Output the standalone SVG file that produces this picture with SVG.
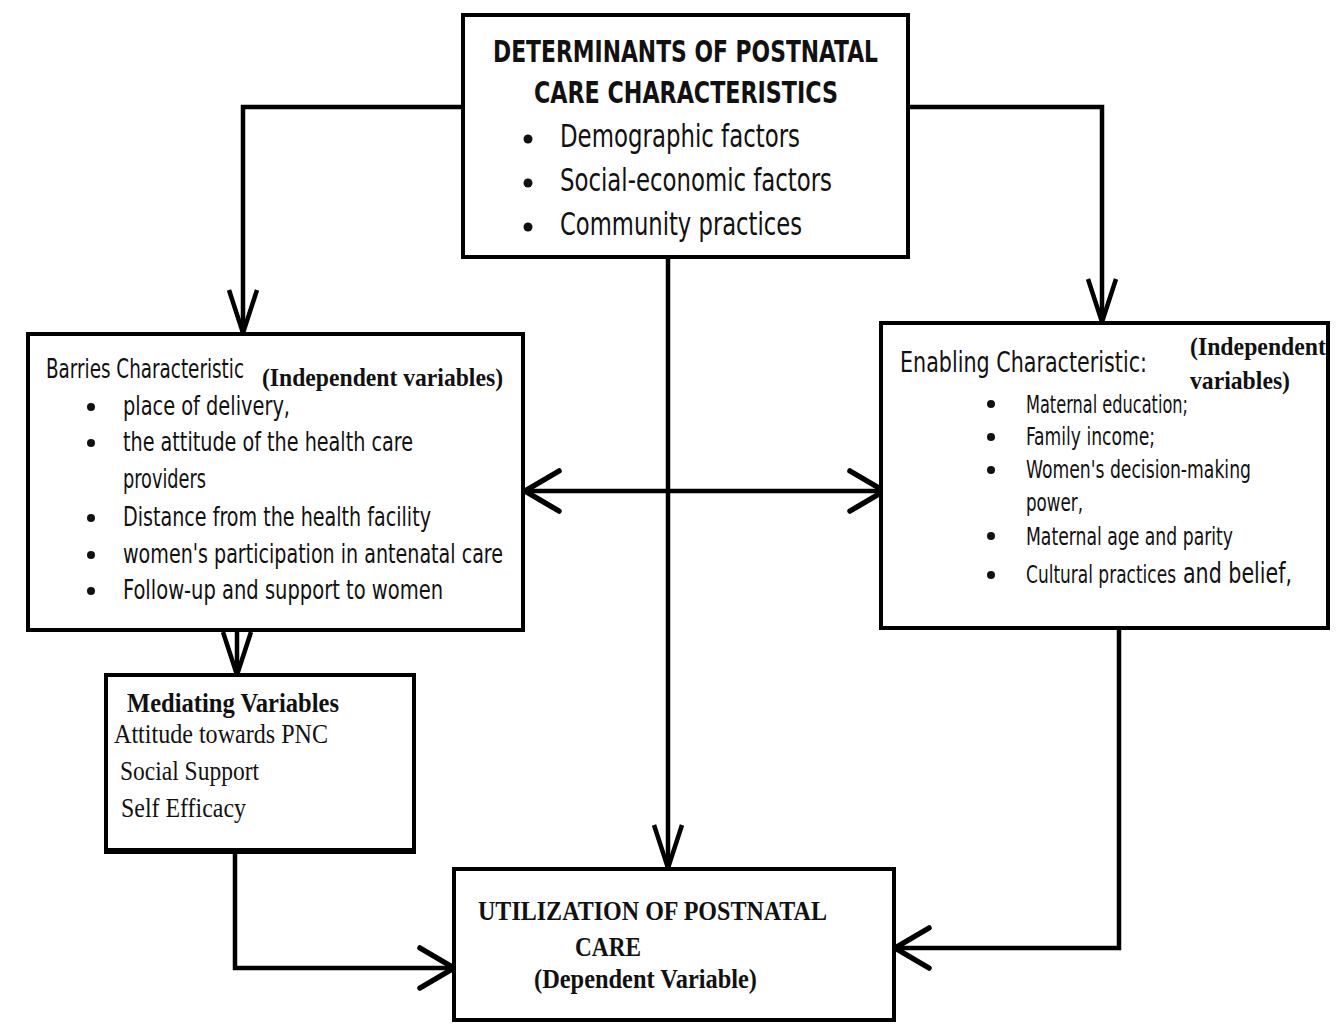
<svg xmlns="http://www.w3.org/2000/svg" width="1339" height="1024" viewBox="0 0 1339 1024">
<style>
.box{fill:#fff;stroke:#000;stroke-width:4}
.con{fill:none;stroke:#000;stroke-width:4.5}
.s{font-family:"DejaVu Sans Condensed","DejaVu Sans","Liberation Sans",sans-serif;fill:#111}
.sb{font-family:"DejaVu Sans Condensed","DejaVu Sans","Liberation Sans",sans-serif;font-weight:bold;fill:#111}
.r{font-family:"Liberation Serif","Times New Roman",serif;fill:#111}
.rb{font-family:"Liberation Serif","Times New Roman",serif;font-weight:bold;fill:#111}
.dot{fill:#111}
</style>
<defs>
<marker id="vd" markerUnits="userSpaceOnUse" markerWidth="60" markerHeight="60" refX="0" refY="0" orient="auto" overflow="visible">
<path d="M-43,-14 L0,0 L-43,14" fill="none" stroke="#000" stroke-width="4.5"/>
</marker>
<marker id="vs" markerUnits="userSpaceOnUse" markerWidth="60" markerHeight="60" refX="0" refY="0" orient="auto-start-reverse" overflow="visible">
<path d="M-34,-20 L0,0 L-34,20" fill="none" stroke="#000" stroke-width="5.5" stroke-linecap="round"/>
</marker>
</defs>
<rect width="1339" height="1024" fill="#fff"/>

<g id="connectors">
<path class="con" d="M463,107 H243 V333" marker-end="url(#vd)"/>
<path class="con" d="M909,107 H1102 V322" marker-end="url(#vd)"/>
<path class="con" d="M668,257 V868" marker-end="url(#vd)"/>
<path class="con" d="M525,491 H884" marker-start="url(#vs)" marker-end="url(#vs)"/>
<path class="con" d="M237,630 V675" marker-end="url(#vd)"/>
<path class="con" d="M235,852 V968 H454" marker-end="url(#vs)"/>
<path class="con" d="M1119,628 V948 H895" marker-end="url(#vs)"/>
</g>

<g id="determinants">
<rect class="box" x="463" y="15" width="445" height="242"/>
<text class="sb" x="493" y="62" font-size="30" textLength="385" lengthAdjust="spacingAndGlyphs">DETERMINANTS OF POSTNATAL</text>
<text class="sb" x="534" y="103" font-size="30" textLength="304" lengthAdjust="spacingAndGlyphs">CARE CHARACTERISTICS</text>
<circle class="dot" cx="528" cy="139" r="4.5"/>
<circle class="dot" cx="528" cy="183" r="4.5"/>
<circle class="dot" cx="528" cy="227" r="4.5"/>
<text class="s" x="560" y="147" font-size="32" textLength="240" lengthAdjust="spacingAndGlyphs">Demographic factors</text>
<text class="s" x="560" y="191" font-size="32" textLength="272" lengthAdjust="spacingAndGlyphs">Social-economic factors</text>
<text class="s" x="560" y="235" font-size="32" textLength="242" lengthAdjust="spacingAndGlyphs">Community practices</text>
</g>

<g id="barriers">
<rect class="box" x="28" y="334" width="495" height="296"/>
<text class="s" transform="translate(46,378) scale(0.5,1)" x="0" y="0" font-size="26" textLength="396" lengthAdjust="spacingAndGlyphs">Barries Characteristic</text>
<text class="rb" x="262" y="386" font-size="26" textLength="241" lengthAdjust="spacingAndGlyphs">(Independent variables)</text>
<circle class="dot" cx="91" cy="407" r="4"/>
<circle class="dot" cx="91" cy="443" r="4"/>
<circle class="dot" cx="91" cy="518" r="4"/>
<circle class="dot" cx="91" cy="555" r="4"/>
<circle class="dot" cx="91" cy="591" r="4"/>
<text class="s" x="123" y="415" font-size="26" textLength="167" lengthAdjust="spacingAndGlyphs">place of delivery,</text>
<text class="s" x="123" y="451" font-size="26" textLength="290" lengthAdjust="spacingAndGlyphs">the attitude of the health care</text>
<text class="s" x="123" y="488" font-size="26" textLength="83" lengthAdjust="spacingAndGlyphs">providers</text>
<text class="s" x="123" y="526" font-size="26" textLength="308" lengthAdjust="spacingAndGlyphs">Distance from the health facility</text>
<text class="s" x="123" y="563" font-size="26" textLength="380" lengthAdjust="spacingAndGlyphs">women's participation in antenatal care</text>
<text class="s" x="123" y="599" font-size="26" textLength="320" lengthAdjust="spacingAndGlyphs">Follow-up and support to women</text>
</g>

<g id="enabling">
<rect class="box" x="881" y="323" width="447" height="305"/>
<text class="s" font-size="28"><tspan x="900" y="372" textLength="247" lengthAdjust="spacingAndGlyphs">Enabling Characteristic:</tspan><tspan class="rb" font-size="25" x="1190" y="355" textLength="136" lengthAdjust="spacingAndGlyphs">(Independent</tspan><tspan class="rb" font-size="25" x="1190" y="389" textLength="100" lengthAdjust="spacingAndGlyphs">variables)</tspan></text>
<circle class="dot" cx="991" cy="404" r="4"/>
<circle class="dot" cx="991" cy="437" r="4"/>
<circle class="dot" cx="991" cy="470" r="4"/>
<circle class="dot" cx="991" cy="536" r="4"/>
<circle class="dot" cx="991" cy="575" r="4"/>
<text class="s" x="1026" y="413" font-size="24" textLength="162" lengthAdjust="spacingAndGlyphs">Maternal education;</text>
<text class="s" x="1026" y="445" font-size="24" textLength="129" lengthAdjust="spacingAndGlyphs">Family income;</text>
<text class="s" x="1026" y="478" font-size="24" textLength="225" lengthAdjust="spacingAndGlyphs">Women's decision-making</text>
<text class="s" x="1026" y="511" font-size="24" textLength="57" lengthAdjust="spacingAndGlyphs">power,</text>
<text class="s" x="1026" y="545" font-size="24" textLength="207" lengthAdjust="spacingAndGlyphs">Maternal age and parity</text>
<text class="s" transform="translate(1026,583) scale(0.5,1)" x="0" y="0" font-size="24" textLength="300" lengthAdjust="spacingAndGlyphs">Cultural practices</text>
<text class="s" x="1183" y="583" font-size="28" textLength="109" lengthAdjust="spacingAndGlyphs">and belief,</text>
</g>

<g id="mediating">
<rect class="box" x="106" y="675" width="308" height="176"/>
<line x1="104" y1="851" x2="416" y2="851" stroke="#000" stroke-width="6"/>
<text class="rb" x="127" y="712" font-size="27" textLength="212" lengthAdjust="spacingAndGlyphs">Mediating Variables</text>
<text class="r" x="114" y="743" font-size="27" textLength="214" lengthAdjust="spacingAndGlyphs">Attitude towards PNC</text>
<text class="r" x="120" y="780" font-size="27" textLength="139" lengthAdjust="spacingAndGlyphs">Social Support</text>
<text class="r" x="121" y="817" font-size="27" textLength="125" lengthAdjust="spacingAndGlyphs">Self Efficacy</text>
</g>

<g id="utilization">
<rect class="box" x="454" y="869" width="440" height="151"/>
<text class="rb" x="478" y="920" font-size="27" textLength="349" lengthAdjust="spacingAndGlyphs">UTILIZATION OF POSTNATAL</text>
<text class="rb" x="575" y="956" font-size="27" textLength="66" lengthAdjust="spacingAndGlyphs">CARE</text>
<text class="rb" x="534" y="988" font-size="27" textLength="223" lengthAdjust="spacingAndGlyphs">(Dependent Variable)</text>
</g>
</svg>
